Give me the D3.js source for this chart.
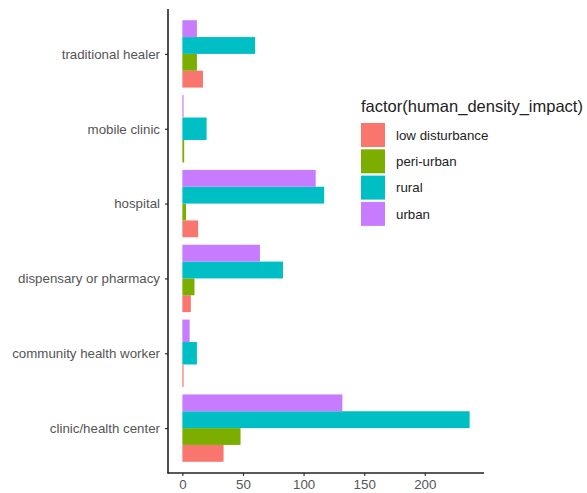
<!DOCTYPE html>
<html><head><meta charset="utf-8">
<script src="https://cdn.jsdelivr.net/npm/d3@7"></script>
<style>body{margin:0;background:#fff;} text{font-family:"Liberation Sans",Arial,Helvetica,sans-serif;}</style>
</head><body>
<svg id="chart" width="587" height="493"></svg>
<script>
// categories listed from bottom to top
const categories = ["clinic/health center","community health worker","dispensary or pharmacy","hospital","mobile clinic","traditional healer"];
const seriesNames = ["low disturbance","peri-urban","rural","urban"];
const colors = ["#F8766D","#7CAE00","#00BFC4","#C77CFF"];
// null = category absent for that facility
const lowDisturbance = [34, 1, 7, 13, null, 17];
const periUrban      = [48, null, 10, 3, 1.5, 12];
const rural          = [237, 12, 83, 117, 20, 60];
const urban          = [132, 6, 64, 110, 1, 12];
const xTicks = [0, 50, 100, 150, 200];

const seriesValues = [lowDisturbance, periUrban, rural, urban];
const svg = d3.select("#chart");
const plotLeft = 168, plotRight = 484, plotTop = 9, plotBottom = 473;

const dataMax = d3.max(seriesValues.flat().filter(v => v != null));
const x = d3.scaleLinear().domain([-0.05*dataMax, dataMax*1.05]).range([plotLeft, plotRight]);
// discrete positions 1..n with 0.6 expansion
const y = d3.scaleLinear().domain([0.4, categories.length + 0.6]).range([plotBottom, plotTop]);

const g = svg.append("g");
categories.forEach((cat, ci) => {
  const present = seriesNames.map((s, si) => ({s, si, v: seriesValues[si][ci]})).filter(d => d.v != null);
  const n = present.length;
  const total = 0.9;
  const w = total / n;
  present.forEach((d, k) => {
    const lo = (ci + 1) - total/2 + k*w;
    const hi = lo + w;
    g.append("rect")
      .attr("x", x(0))
      .attr("y", y(hi))
      .attr("width", Math.max(0, x(d.v) - x(0)))
      .attr("height", y(lo) - y(hi))
      .attr("fill", colors[d.si]);
  });
});

// y axis
const yAxis = d3.axisLeft(y).tickValues(categories.map((c,i)=>i+1)).tickFormat(i => categories[i-1]).tickSize(3).tickPadding(5);
const ya = svg.append("g").attr("transform", `translate(${plotLeft},0)`).call(yAxis);
ya.select(".domain").remove();
ya.selectAll(".tick line").attr("stroke", "#333").attr("stroke-width", 1.2);
ya.selectAll(".tick text").attr("fill", "#555").style("font-size", "13.3px").style("font-family", '"Liberation Sans",Arial,sans-serif');
svg.append("line").attr("x1", plotLeft).attr("x2", plotLeft).attr("y1", plotTop).attr("y2", plotBottom+0.5).attr("stroke", "#222").attr("stroke-width", 1.6);

// x axis
const xAxis = d3.axisBottom(x).tickValues(xTicks).tickSize(3).tickPadding(4);
const xa = svg.append("g").attr("transform", `translate(0,${plotBottom})`).call(xAxis);
xa.select(".domain").remove();
xa.selectAll(".tick line").attr("stroke", "#333").attr("stroke-width", 1.2);
xa.selectAll(".tick text").attr("fill", "#555").style("font-size", "13.3px").style("font-family", '"Liberation Sans",Arial,sans-serif');
svg.append("line").attr("x1", plotLeft-0.5).attr("x2", plotRight).attr("y1", plotBottom).attr("y2", plotBottom).attr("stroke", "#222").attr("stroke-width", 1.6);

// legend
const lg = svg.append("g").attr("transform", "translate(361,0)");
lg.append("text").attr("x", 0).attr("y", 112).text("factor(human_density_impact)")
  .attr("fill", "#222").style("font-size", "16.5px");
seriesNames.forEach((s, i) => {
  const top = 123 + i*26.3;
  lg.append("rect").attr("x", 0).attr("y", top).attr("width", 24).attr("height", 24).attr("fill", colors[i]);
  lg.append("text").attr("x", 35).attr("y", top + 12).attr("dy", "0.35em").text(s)
    .attr("fill", "#222").style("font-size", "13.3px");
});
</script>
</body></html>
